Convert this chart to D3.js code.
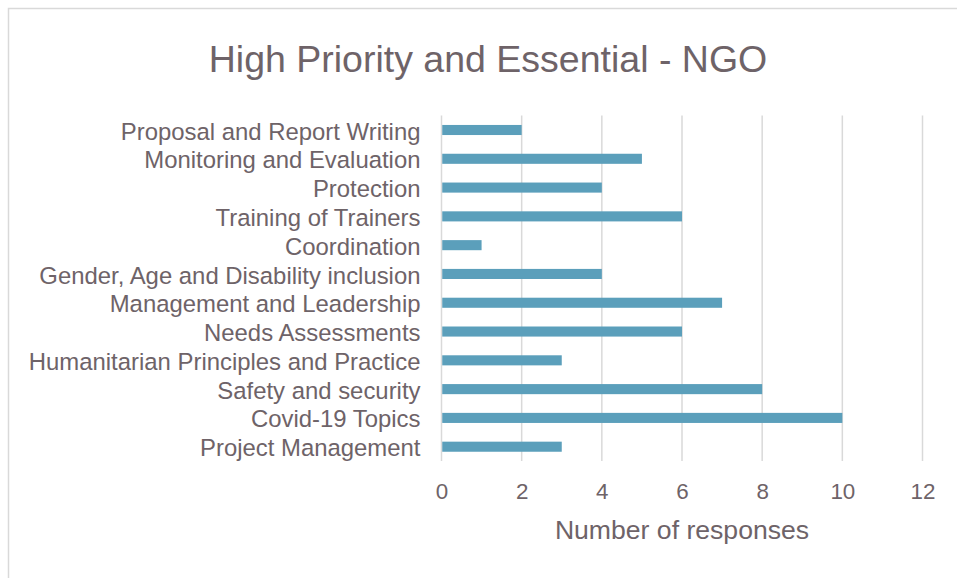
<!DOCTYPE html>
<html><head><meta charset="utf-8">
<script src="https://cdn.jsdelivr.net/npm/d3@7"></script>
<style>body{margin:0;background:#fff}svg{display:block;font-family:"Liberation Sans",Arial,sans-serif}</style>
</head><body><svg id="c" width="957" height="578"></svg>
<script>
const categories = ["Proposal and Report Writing","Monitoring and Evaluation","Protection","Training of Trainers","Coordination","Gender, Age and Disability inclusion","Management and Leadership","Needs Assessments","Humanitarian Principles and Practice","Safety and security","Covid-19 Topics","Project Management"];
const values = [2,5,4,6,1,4,7,6,3,8,10,3];
const tickValues = [0,2,4,6,8,10,12];
const title = "High Priority and Essential - NGO";
const xTitle = "Number of responses";

const svg = d3.select("#c");
const textColor = "#6e6368";
svg.append("rect").attr("x",8.5).attr("y",8.5).attr("width",960).attr("height",580)
  .attr("fill","#fff").attr("stroke","#d9d9d9").attr("stroke-width",1.5);

const x = d3.scaleLinear().domain([0,12]).range([441.5,922.5]);
const y = d3.scaleBand().domain(categories).range([115.6,461.1]).paddingInner(0.65).paddingOuter(0.325);

const grid = svg.append("g");
grid.selectAll("line").data(tickValues).join("line")
  .attr("x1",d=>x(d)).attr("x2",d=>x(d)).attr("y1",115.6).attr("y2",461.1)
  .attr("stroke","#d9d9d9").attr("stroke-width",1.5);

svg.append("g").selectAll("rect").data(values).join("rect")
  .attr("x",x(0)+0.75).attr("y",(d,i)=>y(categories[i]))
  .attr("width",d=>x(d)-x(0)-0.75).attr("height",y.bandwidth())
  .attr("fill","#5b9fbb");

const xAxis = svg.append("g").attr("transform","translate(0,461.1)")
  .call(d3.axisBottom(x).tickValues(tickValues).tickSize(0).tickPadding(22));
xAxis.select(".domain").remove();
xAxis.selectAll("text").attr("fill",textColor).attr("font-size",22.4).attr("font-family","Liberation Sans, Arial, sans-serif");

const yAxis = svg.append("g").attr("transform","translate(441.5,0)")
  .call(d3.axisLeft(y).tickSize(0).tickPadding(21));
yAxis.select(".domain").remove();
yAxis.selectAll("text").attr("fill",textColor).attr("font-size",23.9).attr("dy","0.4em").attr("font-family","Liberation Sans, Arial, sans-serif");

svg.append("text").attr("x",488).attr("y",72).attr("text-anchor","middle")
  .attr("font-size",37.5).attr("fill",textColor).text(title);
svg.append("text").attr("x",682).attr("y",539).attr("text-anchor","middle")
  .attr("font-size",26.6).attr("fill",textColor).text(xTitle);
</script></body></html>
